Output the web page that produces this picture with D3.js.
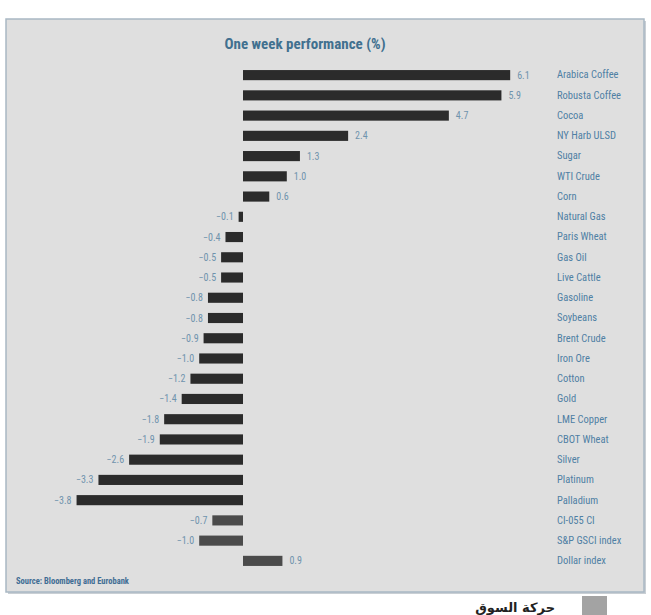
<!DOCTYPE html>
<html lang="en">
<head>
    <meta charset="UTF-8">
    <title>One week performance (%)</title>
    <script src="https://cdn.jsdelivr.net/npm/d3@7"></script>
    <style>
        body { margin: 0; background: #fff; }
    </style>
</head>
<body>
    <div id="chart"></div>

    <script>
        // Chart data
        const categories = [
            "Arabica Coffee", "Robusta Coffee", "Cocoa", "NY Harb ULSD", "Sugar",
            "WTI Crude", "Corn", "Natural Gas", "Paris Wheat", "Gas Oil",
            "Live Cattle", "Gasoline", "Soybeans", "Brent Crude", "Iron Ore",
            "Cotton", "Gold", "LME Copper", "CBOT Wheat", "Silver",
            "Platinum", "Palladium", "CI-055 CI", "S&P GSCI index", "Dollar index"
        ];
        const values = [
            6.1, 5.9, 4.7, 2.4, 1.3,
            1.0, 0.6, -0.1, -0.4, -0.5,
            -0.5, -0.8, -0.8, -0.9, -1.0,
            -1.2, -1.4, -1.8, -1.9, -2.6,
            -3.3, -3.8, -0.7, -1.0, 0.9
        ];
        // commodity rows vs index rows
        const groups = categories.map((c, i) => i < 22 ? "commodity" : "index");

        const width = 651;
        const height = 615;
        const narrow = "'Liberation Sans Narrow', 'Arial Narrow', 'Roboto Condensed', sans-serif";

        const svg = d3.select("#chart")
            .append("svg")
            .attr("width", width)
            .attr("height", height);

        // Panel
        svg.append("rect")
            .attr("x", 8).attr("y", 21)
            .attr("width", 638).attr("height", 573)
            .attr("fill", "#c9cfd4");
        svg.append("rect")
            .attr("x", 6).attr("y", 19)
            .attr("width", 638).attr("height", 573)
            .attr("fill", "#dfdfdf")
            .attr("stroke", "#a9b8c4")
            .attr("stroke-width", 1.5);

        // Scales
        const xScale = d3.scaleLinear()
            .domain([-4, 6.5])
            .range([243 - 4 * 43.8, 243 + 6.5 * 43.8]);

        const yScale = d3.scaleBand()
            .domain(categories)
            .range([65, 571])
            .paddingInner(0.5)
            .paddingOuter(0.25);

        const color = d3.scaleOrdinal()
            .domain(["commodity", "index"])
            .range(["#2b2b2b", "#4b4b4b"]);

        const data = categories.map((c, i) => ({ name: c, value: values[i], group: groups[i] }));

        // Bars
        svg.append("g")
            .selectAll("rect")
            .data(data)
            .enter()
            .append("rect")
            .attr("x", d => xScale(Math.min(0, d.value)))
            .attr("y", d => yScale(d.name))
            .attr("width", d => Math.abs(xScale(d.value) - xScale(0)))
            .attr("height", yScale.bandwidth())
            .attr("fill", d => color(d.group));

        // Value labels
        svg.append("g")
            .selectAll("text")
            .data(data)
            .enter()
            .append("text")
            .attr("x", d => d.value >= 0 ? xScale(d.value) + 7 : xScale(d.value) - 5)
            .attr("y", d => yScale(d.name) + yScale.bandwidth() / 2)
            .attr("dy", "0.35em")
            .attr("text-anchor", d => d.value >= 0 ? "start" : "end")
            .attr("font-family", narrow)
            .attr("font-size", 10)
            .attr("fill", "#6f93ad")
            .text(d => d3.format(".1f")(d.value));

        // Category labels (right side)
        const yAxis = svg.append("g")
            .attr("transform", "translate(557,0)")
            .call(d3.axisRight(yScale).tickSize(0).tickPadding(0));
        yAxis.select(".domain").remove();
        yAxis.selectAll("text")
            .attr("font-family", narrow)
            .attr("font-size", 10.5)
            .attr("fill", "#4f80a4");

        // Title
        svg.append("text")
            .attr("x", 305)
            .attr("y", 49)
            .attr("text-anchor", "middle")
            .attr("font-family", narrow)
            .attr("font-size", 15)
            .attr("font-weight", "bold")
            .attr("fill", "#41708f")
            .text("One week performance (%)");

        // Source
        svg.append("text")
            .attr("x", 16)
            .attr("y", 584)
            .attr("font-family", narrow)
            .attr("font-size", 8.5)
            .attr("font-weight", "bold")
            .attr("fill", "#3f6d94")
            .text("Source: Bloomberg and Eurobank");

        // Footer
        svg.append("rect")
            .attr("x", 582).attr("y", 596)
            .attr("width", 25).attr("height", 19)
            .attr("fill", "#a3a3a3");
        svg.append("text")
            .attr("x", 555)
            .attr("y", 612)
            .attr("text-anchor", "end")
            .attr("font-family", "'DejaVu Sans', sans-serif")
            .attr("font-size", 13)
            .attr("font-weight", "bold")
            .attr("fill", "#222")
            .text("حركة السوق");
    </script>
</body>
</html>
